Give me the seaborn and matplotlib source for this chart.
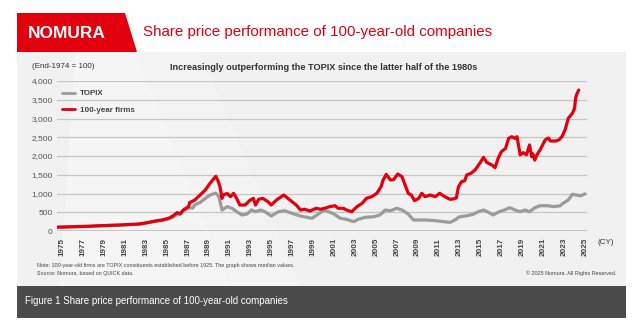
import matplotlib
matplotlib.use("Agg")
import matplotlib.pyplot as plt
from matplotlib.patches import Rectangle, Polygon
import seaborn as sns
import pandas as pd

# ---- data (end-1974 = 100) ----
firm_years = [1974.5, 1975.5, 1976.5, 1977.5, 1978.5, 1979.5, 1980.5, 1981.5, 1982.3, 1983.0,
              1983.6, 1984.0, 1984.5, 1985.2, 1985.6, 1986.0, 1986.3, 1986.6, 1987.1, 1987.2,
              1987.7, 1988.2, 1988.7, 1989.15, 1989.7, 1989.95, 1990.1, 1990.3, 1990.4, 1990.8,
              1991.1, 1991.4, 1991.7, 1992.0, 1992.5, 1993.0, 1993.3, 1993.5, 1993.8, 1994.2,
              1994.7, 1995.0, 1995.5, 1996.2, 1996.6, 1997.0, 1997.4, 1997.8, 1998.2, 1998.7,
              1999.3, 1999.7, 2000.1, 2000.6, 2001.1, 2001.4, 2001.9, 2002.2, 2002.7, 2003.2,
              2003.7, 2004.1, 2004.6, 2005.1, 2005.5, 2005.7, 2006.0, 2006.4, 2006.7, 2007.1,
              2007.5, 2007.8, 2008.1, 2008.4, 2008.7, 2009.1, 2009.4, 2009.7, 2010.2, 2010.7,
              2011.1, 2011.6, 2012.1, 2012.4, 2012.7, 2012.9, 2013.2, 2013.5, 2013.7, 2014.1,
              2014.5, 2015.0, 2015.3, 2015.6, 2016.1, 2016.4, 2016.7, 2017.0, 2017.4, 2017.7,
              2018.0, 2018.3, 2018.5, 2018.8, 2019.1, 2019.4, 2019.7, 2019.9, 2020.0, 2020.2,
              2020.4, 2020.7, 2021.2, 2021.5, 2021.7, 2022.2, 2022.5, 2022.8, 2023.1, 2023.4,
              2023.8, 2024.0, 2024.1, 2024.2, 2024.4]
firm_values = [100, 110, 120, 125, 140, 150, 160, 175, 185, 215,
               250, 270, 290, 340, 400, 490, 460, 560, 650, 755,
               827, 960, 1093, 1270, 1460, 1315, 1180, 870, 960, 1000,
               915, 1005, 870, 693, 693, 827, 870, 693, 845, 870,
               780, 693, 827, 960, 870, 780, 693, 560, 580, 533,
               605, 580, 605, 650, 675, 605, 605, 560, 515, 650,
               740, 870, 915, 1005, 1180, 1360, 1510, 1360, 1370, 1520,
               1450, 1227, 1005, 960, 810, 870, 1005, 915, 960, 915,
               1005, 915, 845, 853, 880, 1180, 1315, 1340, 1495, 1540,
               1630, 1830, 1965, 1830, 1760, 1690, 1940, 2115, 2200, 2470,
               2515, 2470, 2515, 2030, 2090, 2030, 2295, 1980, 2060, 1890,
               2030, 2160, 2430, 2480, 2400, 2400, 2430, 2515, 2700, 3005,
               3140, 3270, 3540, 3640, 3760]

topix_years = [1974.5, 1975.5, 1976.5, 1977.5, 1978.5, 1979.5, 1980.5, 1981.5, 1982.3, 1983.0,
               1983.6, 1984.0, 1984.5, 1985.2, 1985.6, 1986.0, 1986.3, 1986.6, 1987.1, 1987.5,
               1987.7, 1988.2, 1988.5, 1989.15, 1989.7, 1990.0, 1990.3, 1990.8, 1991.3, 1991.7,
               1992.2, 1992.7, 1993.1, 1993.5, 1994.0, 1994.4, 1995.0, 1995.7, 1996.3, 1997.0,
               1997.8, 1998.4, 1998.9, 1999.5, 2000.1, 2000.5, 2001.0, 2001.6, 2002.2, 2002.9,
               2003.3, 2004.0, 2004.8, 2005.4, 2005.9, 2006.4, 2007.0, 2007.5, 2008.1, 2008.6,
               2009.1, 2009.9, 2010.7, 2011.5, 2012.1, 2012.6, 2013.0, 2013.7, 2014.3, 2014.8,
               2015.3, 2015.8, 2016.2, 2016.8, 2017.3, 2017.8, 2018.3, 2018.8, 2019.3, 2019.7,
               2020.2, 2020.7, 2021.4, 2022.0, 2022.6, 2022.9, 2023.4, 2023.8, 2024.1, 2024.6,
               2025.0]
topix_values = [100, 108, 115, 122, 135, 145, 155, 170, 178, 210,
                235, 262, 278, 320, 370, 440, 450, 530, 620, 610,
                700, 760, 827, 960, 1010, 915, 560, 650, 600, 515,
                427, 453, 560, 515, 560, 515, 400, 515, 540, 470,
                400, 365, 340, 453, 560, 515, 453, 340, 310, 250,
                310, 365, 380, 427, 560, 540, 605, 560, 453, 293,
                293, 293, 275, 250, 230, 300, 380, 405, 445, 515,
                560, 495, 427, 515, 560, 620, 560, 515, 560, 515,
                620, 675, 675, 650, 670, 740, 827, 980, 960, 940,
                990]

y_ticks = [0, 500, 1000, 1500, 2000, 2500, 3000, 3500, 4000]
x_ticks = list(range(1975, 2026, 2))

W, H = 640, 323
sns.set_theme(style="white")
plt.rcParams["font.family"] = ["Liberation Sans", "DejaVu Sans"]

fig = plt.figure(figsize=(W / 100, H / 100), dpi=100)
fig.patch.set_facecolor("white")

# pixel-space canvas for the frame, header and footer
bg = fig.add_axes([0, 0, 1, 1])
bg.set_xlim(0, W)
bg.set_ylim(H, 0)
bg.axis("off")

bg.add_patch(Rectangle((17, 52), 609, 234, facecolor="#f1f1f1", edgecolor="none"))
# faint decorative shapes in the panel
bg.add_patch(Polygon([(75, 52), (135, 52), (230, 286), (60, 286)], closed=True,
                     facecolor="white", alpha=0.35, edgecolor="none"))
bg.add_patch(Polygon([(135, 52), (200, 52), (300, 286), (230, 286)], closed=True,
                     facecolor="white", alpha=0.18, edgecolor="none"))
bg.add_patch(Rectangle((17, 286), 609, 32, facecolor="#4b4b4b", edgecolor="none"))
bg.add_patch(Polygon([(17, 13), (125, 13), (137, 52), (17, 52)], closed=True,
                     facecolor="#e2000f", edgecolor="none"))

bg.text(28, 33, "NOMURA", color="white", fontsize=12.5, fontweight="bold",
        va="center", ha="left")
bg.text(143, 32, "Share price performance of 100-year-old companies", color="#e2000f",
        fontsize=10.9, va="center", ha="left")
bg.text(32, 67, "(End-1974 = 100)", color="#333333", fontsize=5.8, va="center", ha="left")
bg.text(324, 67, "Increasingly outperforming the TOPIX since the latter half of the 1980s",
        color="#333333", fontsize=6.6, fontweight="bold", va="center", ha="center")
bg.text(597, 243, "(CY)", color="#333333", fontsize=5.8, va="center", ha="left")
bg.text(37, 266, "Note: 100-year-old firms are TOPIX constituents established before 1925. "
        "The graph shows median values.", color="#444444", fontsize=3.9, va="center", ha="left")
bg.text(37, 273.5, "Source: Nomura, based on QUICK data.", color="#444444", fontsize=3.9,
        va="center", ha="left")
bg.text(617, 273.5, "\u00a9 2025 Nomura. All Rights Reserved.", color="#444444", fontsize=3.9,
        va="center", ha="right")
bg.text(25, 301, "Figure 1 Share price performance of 100-year-old companies", color="white",
        fontsize=7.0, va="center", ha="left")

# plot area
x0, x1 = 57, 587
y_top, y_bot = 81, 231
ax = fig.add_axes([x0 / W, (H - y_bot) / H, (x1 - x0) / W, (y_bot - y_top) / H])
ax.set_facecolor("none")

px_per_year = 10.46
ax.set_xlim(1975 - 5 / px_per_year, 1975 + (x1 - 62) / px_per_year)
ax.set_ylim(0, 4000)

for v in y_ticks[1:]:
    ax.axhline(v, color="#c6c6c6", linewidth=0.9, zorder=1)
ax.axhline(0, color="#b4b4b4", linewidth=1.8, zorder=1)

topix_df = pd.DataFrame({"year": topix_years, "index": topix_values})
firm_df = pd.DataFrame({"year": firm_years, "index": firm_values})
sns.lineplot(data=topix_df, x="year", y="index", ax=ax, color="#9b9b9b", linewidth=2.3,
             estimator=None, sort=False, label="TOPIX", zorder=3)
sns.lineplot(data=firm_df, x="year", y="index", ax=ax, color="#e2000f", linewidth=2.3,
             estimator=None, sort=False, label="100-year firms", zorder=4)

for s in ax.spines.values():
    s.set_visible(False)
ax.set_xlabel("")
ax.set_ylabel("")
ax.set_yticks(y_ticks)
ax.set_yticklabels([f"{v:,}" for v in y_ticks], fontsize=6.0, color="#555555")
ax.tick_params(axis="both", length=0, pad=3)
ax.set_xticks(x_ticks)
ax.set_xticklabels([str(y) for y in x_ticks], rotation=90, fontsize=5.9,
                   fontweight="bold", color="#444444")
ax.tick_params(axis="x", pad=5)

leg = ax.legend(loc="upper left", bbox_to_anchor=(-0.005, 0.99), frameon=False,
                fontsize=5.8, handlelength=1.7, handletextpad=0.6, labelspacing=1.1)
for t in leg.get_texts():
    t.set_fontweight("bold")
    t.set_color("#444444")
for ln in leg.get_lines():
    ln.set_linewidth(2.0)

fig.savefig("out.png", dpi=100, facecolor="white")
